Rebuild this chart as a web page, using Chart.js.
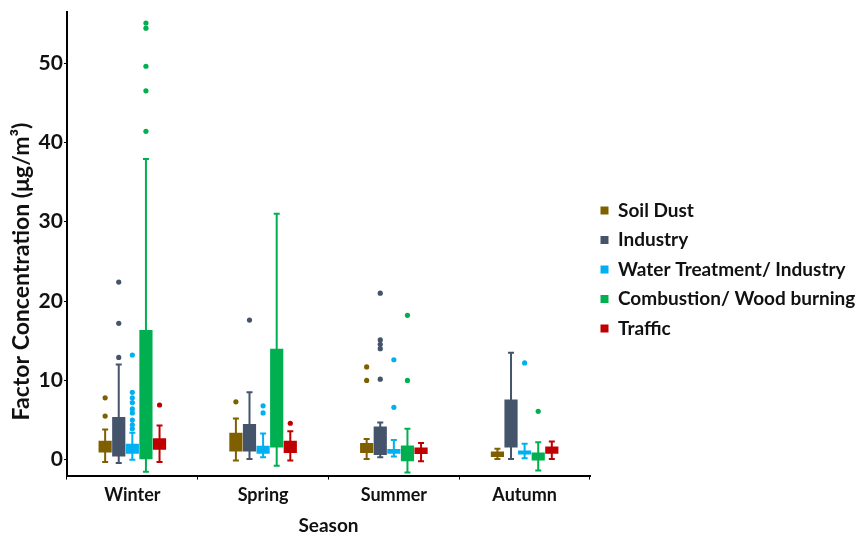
<!DOCTYPE html>
<html>
<head>
<meta charset="utf-8">
<script src="https://cdn.jsdelivr.net/npm/chart.js@4.4.0/dist/chart.umd.min.js"></script>
<style>
  body { margin: 0; background: #fff; }
  #wrap { width: 864px; height: 540px; }
</style>
</head>
<body>
<div id="wrap"><canvas id="myChart"></canvas></div>
<script>
const seasons = ['Winter', 'Spring', 'Summer', 'Autumn'];
const sources = ['Soil Dust', 'Industry', 'Water Treatment/ Industry', 'Combustion/ Wood burning', 'Traffic'];
const tickValues = [0, 10, 20, 30, 40, 50];

// box = [Q1, Q3] per season
const soilDustBox = [[0.9, 2.4], [1.05, 3.4], [0.85, 2.1], [0.35, 1.05]];
const industryBox = [[0.4, 5.4], [1.05, 4.5], [0.6, 4.2], [1.55, 7.6]];
const waterBox = [[0.75, 2.0], [0.75, 1.75], [0.75, 1.35], [0.67, 1.17]];
const combustionBox = [[0.0, 16.35], [1.55, 14.0], [-0.2, 1.8], [-0.1, 0.92]];
const trafficBox = [[1.25, 2.7], [0.85, 2.4], [0.72, 1.55], [0.75, 1.67]];

// whiskers = [low, high] per season
const soilDustWhisker = [[-0.3, 3.8], [-0.1, 5.2], [0.1, 2.6], [0.1, 1.4]];
const industryWhisker = [[-0.4, 12.0], [0.1, 8.5], [0.3, 4.7], [0.1, 13.5]];
const waterWhisker = [[0.0, 3.4], [0.3, 3.3], [0.4, 2.5], [0.2, 2.0]];
const combustionWhisker = [[-1.5, 37.9], [-0.75, 31.0], [-1.6, 3.9], [-1.35, 2.2]];
const trafficWhisker = [[-0.3, 4.3], [-0.1, 3.6], [-0.2, 2.1], [0.1, 2.3]];

// outliers per season
const soilDustOut = [[7.8, 5.5], [7.3], [11.7, 10.0], []];
const industryOut = [[22.4, 17.2, 12.9], [17.6], [21.0, 15.1, 14.55, 14.0, 10.15], []];
const waterOut = [[13.2, 8.5, 7.8, 7.2, 6.4, 5.9, 5.0, 4.4, 3.9], [6.8, 5.9], [12.6, 6.6], [12.2]];
const combustionOut = [[55.05, 54.4, 49.6, 46.5, 41.4], [], [18.2, 10.0], [6.1]];
const trafficOut = [[6.9], [4.6], [], []];

const colors = ['#7F6000', '#44546A', '#00B0F0', '#00B050', '#C00000'];
const boxes = [soilDustBox, industryBox, waterBox, combustionBox, trafficBox];
const whiskers = [soilDustWhisker, industryWhisker, waterWhisker, combustionWhisker, trafficWhisker];
const outliers = [soilDustOut, industryOut, waterOut, combustionOut, trafficOut];

const fontName = 'Lato, "Open Sans", sans-serif';

// whiskers, caps and outlier dots, placed on the bar positions and the y scale
const boxPlotExtras = {
  id: 'boxPlotExtras',
  afterDatasetsDraw(chart) {
    const ctx = chart.ctx;
    const yScale = chart.scales.y;
    ctx.save();
    for (let d = 0; d < boxes.length; d++) {
      const meta = chart.getDatasetMeta(d);
      ctx.strokeStyle = colors[d];
      ctx.fillStyle = colors[d];
      ctx.lineWidth = 2;
      meta.data.forEach((bar, i) => {
        const x = bar.x;
        const yLo = yScale.getPixelForValue(whiskers[d][i][0]);
        const yHi = yScale.getPixelForValue(whiskers[d][i][1]);
        ctx.beginPath();
        ctx.moveTo(x, yLo);
        ctx.lineTo(x, yHi);
        ctx.moveTo(x - 3, yLo);
        ctx.lineTo(x + 3, yLo);
        ctx.moveTo(x - 3, yHi);
        ctx.lineTo(x + 3, yHi);
        ctx.stroke();
        outliers[d][i].forEach(v => {
          ctx.beginPath();
          ctx.arc(x, yScale.getPixelForValue(v), 2.6, 0, Math.PI * 2);
          ctx.fill();
        });
      });
    }
    ctx.restore();
  }
};

let datasets = [];
for (let i = 0; i < sources.length; i++) {
  datasets.push({
    label: sources[i],
    data: boxes[i],
    backgroundColor: colors[i],
    borderWidth: 0,
    categoryPercentage: 0.52,
    barPercentage: 0.97
  });
}

new Chart(document.getElementById('myChart'), {
  type: 'bar',
  data: { labels: seasons, datasets: datasets },
  plugins: [boxPlotExtras],
  options: {
    responsive: true,
    maintainAspectRatio: false,
    animation: false,
    layout: { padding: { top: 2, left: 8, right: 0, bottom: 3 } },
    plugins: {
      tooltip: { enabled: false },
      legend: {
        position: 'right',
        align: 'center',
        maxWidth: 274,
        labels: {
          boxWidth: 8,
          boxHeight: 8,
          padding: 10.5,
          color: '#111',
          font: { family: fontName, size: 19, weight: 'bold' }
        }
      }
    },
    scales: {
      x: {
        grid: { display: true, drawOnChartArea: false, drawTicks: true, tickLength: 4, color: '#000' },
        border: { display: true, color: '#000', width: 2 },
        ticks: { color: '#111', padding: 5, font: { family: fontName, size: 18, weight: 'bold' } },
        title: { display: true, text: 'Season', color: '#111', padding: { top: 3, bottom: 0 }, font: { family: fontName, size: 19, weight: 'bold' } }
      },
      y: {
        min: -2,
        max: 56.5,
        afterBuildTicks: (axis) => { axis.ticks = tickValues.map(v => ({ value: v })); },
        grid: { display: true, drawOnChartArea: false, drawTicks: true, tickLength: 3, color: '#000' },
        border: { display: true, color: '#000', width: 2 },
        ticks: { color: '#111', padding: 1, font: { family: fontName, size: 21, weight: 'bold', lineHeight: 1 } },
        title: { display: true, text: 'Factor Concentration (μg/m³)          ', color: '#111', padding: { top: 0, bottom: 2 }, font: { family: fontName, size: 23, weight: 'bold' } }
      }
    }
  }
});
</script>
</body>
</html>
